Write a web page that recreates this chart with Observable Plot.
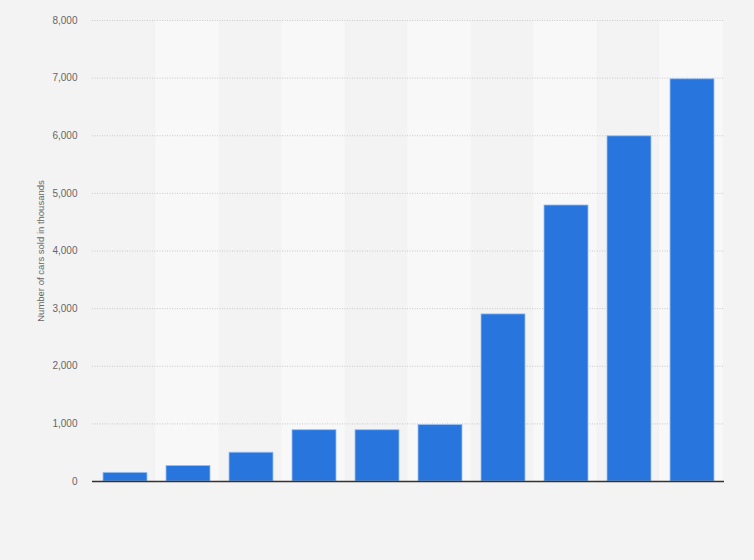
<!DOCTYPE html>
<html>
<head>
<meta charset="utf-8">
<script src="https://cdn.jsdelivr.net/npm/d3@7"></script>
<script src="https://cdn.jsdelivr.net/npm/@observablehq/plot@0.6"></script>
<style>
  html, body { margin: 0; padding: 0; background: #f3f3f3; }
  #chart svg { display: block; background: #f3f3f3; font-family: "Liberation Sans", Arial, sans-serif; }
</style>
</head>
<body>
<div id="chart"></div>
<script>
const categories = ["1", "2", "3", "4", "5", "6", "7", "8", "9", "10"];
const carsSold = [150, 270, 500, 890, 890, 980, 2900, 4790, 5990, 6980];
const yTicks = [0, 1000, 2000, 3000, 4000, 5000, 6000, 7000, 8000];
const yLabel = "Number of cars sold in thousands";

const data = categories.map((c, i) => ({category: c, value: carsSold[i]}));
const bands = categories.filter((c, i) => i % 2 === 1);

const chart = Plot.plot({
  width: 754,
  height: 560,
  marginLeft: 92,
  marginRight: 30,
  marginTop: 20,
  marginBottom: 79,
  style: {background: "#f3f3f3", fontFamily: "Liberation Sans, Arial, sans-serif"},
  x: {domain: categories, paddingInner: 0.3, paddingOuter: 0.15, axis: null},
  y: {domain: [0, 8000], axis: null},
  marks: [
    Plot.barY(bands, {x: d => d, y1: 0, y2: 8000, fill: "#f8f8f8", insetLeft: -9.48, insetRight: -9.48}),
    Plot.ruleY(yTicks.filter(d => d > 0), {stroke: "#c8c8c8", strokeDasharray: "1,1.5", strokeWidth: 1}),
    Plot.axisY({ticks: yTicks, tickSize: 0, tickPadding: 15, tickFormat: d3.format(","), fontSize: 10, color: "#666", label: null}),
    Plot.barY(data, {x: "category", y: "value", dx: 1, fill: "#2876dd", stroke: "#9cc1f0", strokeWidth: 0.8}),
    Plot.ruleY([0], {stroke: "#333", strokeWidth: 1.5}),
    Plot.text([yLabel], {frameAnchor: "left", dx: -52, rotate: -90, textAnchor: "middle", fontSize: 9.5, fill: "#666"})
  ]
});
document.getElementById("chart").appendChild(chart);
</script>
</body>
</html>
